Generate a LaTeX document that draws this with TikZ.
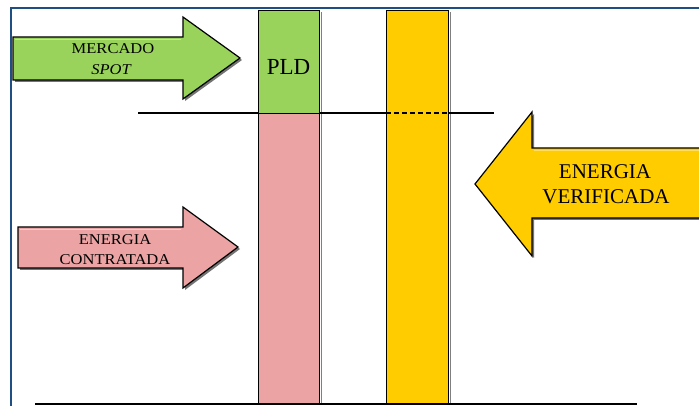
\documentclass[tikz,border=0pt]{standalone}
\usepackage{fontspec}
\setmainfont{Liberation Serif}
\usepackage{graphicx}
\begin{document}
\definecolor{frameblue}{HTML}{1F4E82}
\definecolor{spotgreen}{HTML}{99D35B}
\definecolor{contrpink}{HTML}{EBA3A3}
\definecolor{verifyellow}{HTML}{FFCC00}
\begin{tikzpicture}[x=1pt,y=-1pt,
  outlined/.style={draw=black,line width=1.2pt,line join=miter},
  dropshadow/.style={fill=black,opacity=0.55},
  barbox/.style={outlined,rectangle,inner sep=0pt,anchor=north west,minimum width=61pt},
  arrowtext/.style={font=\fontsize{15}{15}\selectfont,inner sep=0pt},
  bigtext/.style={font=\fontsize{21}{21}\selectfont,inner sep=0pt},
  axis/.style={line width=2.2pt,black}]
\useasboundingbox (0,0) rectangle (699,406);

% outer frame (top and left edges)
\draw[frameblue,line width=2.6pt] (11,406) -- (11,8) -- (705,8);

% level line between spot and contracted energy
\draw[line width=2pt] (138,113) -- (494,113);

% stacked bar: contracted energy (pink) topped by spot market (green)
\fill[black,opacity=0.5] (321,12) rectangle (322,404);
\node[barbox,fill=contrpink,minimum height=291pt] (contr) at (258,113) {};
\node[barbox,fill=spotgreen,minimum height=103pt] (pld) at (258,10) {};
\node[font=\fontsize{23}{23}\selectfont,inner sep=0pt] (pldtext) at (288.5,67) {PLD};

% verified energy bar
\fill[black,opacity=0.5] (450,12) rectangle (451,404);
\node[barbox,fill=verifyellow,minimum width=62pt,minimum height=394pt] (verif) at (386,10) {};
\draw[line width=1.6pt,dash pattern=on 5pt off 3pt] (386,113) -- (448,113);

% baseline
\draw[axis] (35,404) -- (637,404);

% arrow: spot market
\fill[dropshadow] (15,39) -- (185,39) -- (185,19) -- (242,60) -- (185,101) -- (185,82) -- (15,82) -- cycle;
\draw[outlined,fill=spotgreen] (13,37) -- (183,37) -- (183,17) -- (240,58) -- (183,99) -- (183,80) -- (13,80) -- cycle;
\draw[white,opacity=0.45,line width=1.5pt] (15,39.5) -- (181,39.5);
\node[arrowtext] (mercado) at (113,49) {\scalebox{1.1}[1]{MERCADO}};
\node[arrowtext] (spot) at (111,70) {\scalebox{1.1}[1]{\itshape SPOT}};

% arrow: contracted energy
\fill[dropshadow] (20,229) -- (185,229) -- (185,209) -- (240,249) -- (185,290) -- (185,270) -- (20,270) -- cycle;
\draw[outlined,fill=contrpink] (18,227) -- (183,227) -- (183,207) -- (238,247) -- (183,288) -- (183,268) -- (18,268) -- cycle;
\draw[white,opacity=0.5,line width=1.5pt] (20,229.5) -- (181,229.5);
\node[arrowtext] (energia1) at (115,240) {\scalebox{1.1}[1]{ENERGIA}};
\node[arrowtext] (contratada) at (115,260) {\scalebox{1.1}[1]{CONTRATADA}};

% arrow: verified energy
\fill[dropshadow] (706,150) -- (534,150) -- (534,114) -- (477,185) -- (534,258) -- (534,220) -- (706,220) -- cycle;
\draw[outlined,fill=verifyellow] (705,148) -- (532,148) -- (532,112) -- (475,184) -- (532,256) -- (532,218) -- (705,218);
\draw[white,opacity=0.35,line width=1.5pt] (534,150.5) -- (705,150.5);
\node[bigtext] (energia2) at (605,172) {ENERGIA};
\node[bigtext] (verificada) at (606,197) {VERIFICADA};
\end{tikzpicture}
\end{document}
